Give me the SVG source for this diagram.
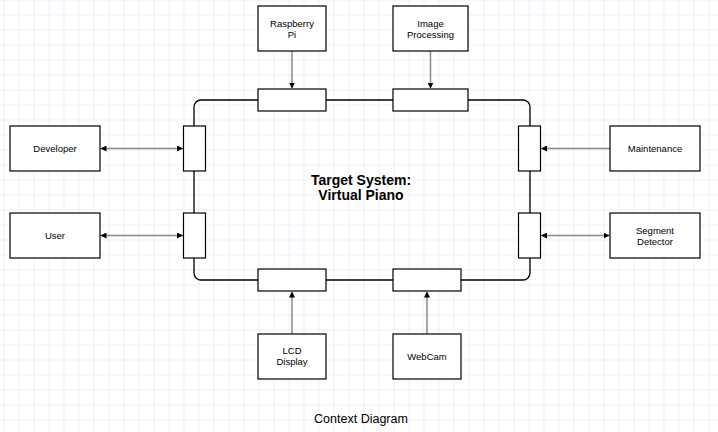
<svg xmlns="http://www.w3.org/2000/svg" width="718" height="432" viewBox="0 0 718 432">
<defs>
<pattern id="grid" x="3.5" y="14.5" width="15" height="15" patternUnits="userSpaceOnUse">
<path d="M0 0H15M0 0V15" fill="none" stroke="#dedef7" stroke-width="1"/>
</pattern>
<marker id="arr" viewBox="0 0 6 6" refX="6" refY="3" markerWidth="6" markerHeight="6" markerUnits="userSpaceOnUse" orient="auto-start-reverse">
<path d="M0 0L6 3L0 6z" fill="#000"/>
</marker>
</defs>
<style>
.box{fill:#fff;stroke:#000;stroke-width:1.2}
.lbl{font-family:"Liberation Sans",Arial,sans-serif;font-size:9.5px;fill:#000;text-anchor:middle}
.title{font-family:"Liberation Sans",Arial,sans-serif;font-size:14px;font-weight:bold;fill:#000;text-anchor:middle}
.cap{font-family:"Liberation Sans",Arial,sans-serif;font-size:12.5px;fill:#000;text-anchor:middle}
.con{fill:none;stroke:#888;stroke-width:1.5}
</style>
<rect width="718" height="432" fill="#fff"/>
<rect width="718" height="432" fill="url(#grid)"/>

<g id="system">
<rect x="194" y="100" width="336" height="180" rx="7" fill="none" stroke="#000" stroke-width="1.3"/>
<rect class="box" x="258" y="89" width="68" height="22"/>
<rect class="box" x="393" y="89" width="75" height="22"/>
<rect class="box" x="183.5" y="126" width="22" height="45"/>
<rect class="box" x="183.5" y="213" width="22" height="45"/>
<rect class="box" x="518.5" y="126" width="22" height="45"/>
<rect class="box" x="518.5" y="213" width="22" height="45"/>
<rect class="box" x="258" y="269" width="68" height="22"/>
<rect class="box" x="393" y="269" width="68" height="22"/>
<text class="title" x="361" y="184.5">Target System:</text>
<text class="title" x="361" y="199.5">Virtual Piano</text>
</g>

<g id="connectors">
<path class="con" d="M292 51V88.5" marker-end="url(#arr)"/>
<path class="con" d="M430.5 51V88.5" marker-end="url(#arr)"/>
<path class="con" d="M292 334V291.5" marker-end="url(#arr)"/>
<path class="con" d="M427 334V291.5" marker-end="url(#arr)"/>
<path class="con" d="M100.5 148.5H183" marker-start="url(#arr)" marker-end="url(#arr)"/>
<path class="con" d="M100.5 235.5H183" marker-start="url(#arr)" marker-end="url(#arr)"/>
<path class="con" d="M610 148.5H541" marker-end="url(#arr)"/>
<path class="con" d="M541 235.5H609.5" marker-start="url(#arr)" marker-end="url(#arr)"/>
</g>

<g id="raspberry-pi">
<rect class="box" x="258" y="6" width="68" height="45"/>
<text class="lbl" x="292" y="27">Raspberry</text>
<text class="lbl" x="292" y="38">Pi</text>
</g>
<g id="image-processing">
<rect class="box" x="393" y="6" width="75" height="45"/>
<text class="lbl" x="430.5" y="27">Image</text>
<text class="lbl" x="430.5" y="38">Processing</text>
</g>
<g id="developer">
<rect class="box" x="10" y="126" width="90" height="45"/>
<text class="lbl" x="55" y="152">Developer</text>
</g>
<g id="user">
<rect class="box" x="10" y="213" width="90" height="45"/>
<text class="lbl" x="55" y="239">User</text>
</g>
<g id="maintenance">
<rect class="box" x="610" y="126" width="90" height="45"/>
<text class="lbl" x="655" y="152">Maintenance</text>
</g>
<g id="segment-detector">
<rect class="box" x="610" y="213" width="90" height="45"/>
<text class="lbl" x="655" y="233.5">Segment</text>
<text class="lbl" x="655" y="244.5">Detector</text>
</g>
<g id="lcd-display">
<rect class="box" x="258" y="334" width="68" height="45"/>
<text class="lbl" x="292" y="354">LCD</text>
<text class="lbl" x="292" y="365">Display</text>
</g>
<g id="webcam">
<rect class="box" x="393" y="334" width="68" height="45"/>
<text class="lbl" x="427" y="360">WebCam</text>
</g>
<text class="cap" x="361" y="423">Context Diagram</text>
</svg>
